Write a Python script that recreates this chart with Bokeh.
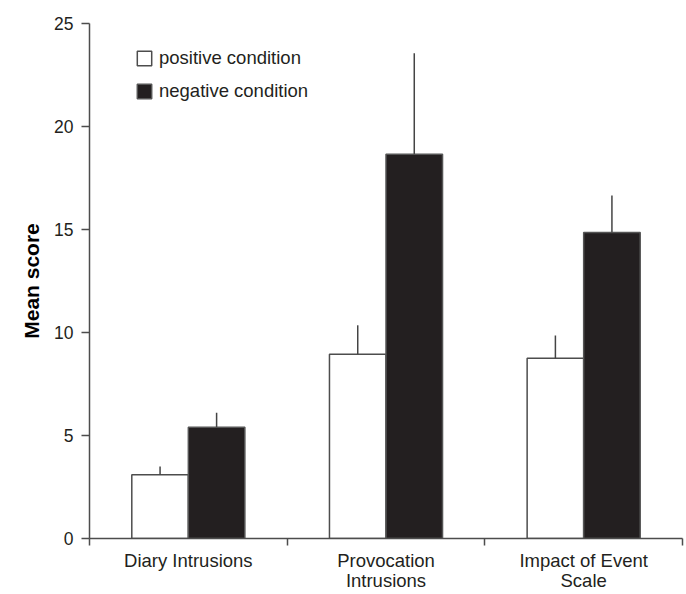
from bokeh.plotting import figure
from bokeh.models import Range1d, FixedTicker, Legend, LegendItem, ColumnDataSource
from bokeh.transform import dodge
from bokeh.embed import file_html
from bokeh.resources import INLINE

categories = ["Diary Intrusions", "Provocation\nIntrusions", "Impact of Event\nScale"]
positive_means = [3.1, 8.95, 8.75]
positive_err = [0.4, 1.4, 1.1]
negative_means = [5.4, 18.65, 14.85]
negative_err = [0.7, 4.9, 1.8]
series_labels = ["positive condition", "negative condition"]
y_ticks = [0, 5, 10, 15, 20, 25]

centers = [i + 0.5 for i in range(len(categories))]
boundaries = [i for i in range(len(categories) + 1)]
source = ColumnDataSource(dict(
    x=centers,
    pos=positive_means,
    neg=negative_means,
    pos_top=[m + e for m, e in zip(positive_means, positive_err)],
    neg_top=[m + e for m, e in zip(negative_means, negative_err)],
))

FONT = "Liberation Sans"
TEXT = "#231f20"
LINE = "#4d4d4d"
BW = 0.286
OFF = BW / 2

p = figure(width=686, height=594, output_backend="svg", toolbar_location=None,
           x_range=Range1d(0, len(categories)), y_range=Range1d(0, 25),
           min_border_left=89, min_border_right=4, min_border_top=23, min_border_bottom=53)
p.outline_line_color = None
p.xgrid.visible = False
p.ygrid.visible = False
p.background_fill_color = "white"
p.border_fill_color = "white"

r_pos = p.vbar(x=dodge("x", -OFF), top="pos", bottom=0, width=BW, source=source,
               fill_color="white", line_color=LINE, line_width=1.5)
r_neg = p.vbar(x=dodge("x", OFF), top="neg", bottom=0, width=BW, source=source,
               fill_color="#231f20", line_color="#555555", line_width=1.5)
p.segment(x0=dodge("x", -OFF), y0="pos", x1=dodge("x", -OFF), y1="pos_top", source=source,
          line_color="#444444", line_width=1.5)
p.segment(x0=dodge("x", OFF), y0="neg", x1=dodge("x", OFF), y1="neg_top", source=source,
          line_color="#444444", line_width=1.5)

# x axis
xa = p.xaxis[0]
xa.ticker = FixedTicker(ticks=centers, minor_ticks=boundaries)
xa.major_label_overrides = {c: lab for c, lab in zip(centers, categories)}
xa.major_tick_out = 0
xa.major_tick_in = 0
xa.major_tick_line_color = None
xa.minor_tick_out = 7
xa.minor_tick_in = 0
xa.minor_tick_line_color = LINE
xa.minor_tick_line_width = 1.5
xa.axis_line_color = LINE
xa.axis_line_width = 1.5
xa.major_label_text_font = FONT
xa.major_label_text_font_size = "18.5px"
xa.major_label_text_color = TEXT
xa.major_label_text_line_height = 0.98
xa.major_label_standoff = 4

# y axis
ya = p.yaxis[0]
ya.ticker = FixedTicker(ticks=y_ticks, minor_ticks=[])
ya.major_tick_out = 8
ya.major_tick_in = 0
ya.major_tick_line_color = LINE
ya.major_tick_line_width = 1.5
ya.axis_line_color = LINE
ya.axis_line_width = 1.5
ya.major_label_text_font = FONT
ya.major_label_text_font_size = "17.5px"
ya.major_label_text_color = TEXT
ya.major_label_standoff = 8
ya.axis_label = "Mean score"
ya.axis_label_text_font = FONT
ya.axis_label_text_font_size = "21px"
ya.axis_label_text_font_style = "bold"
ya.axis_label_text_color = "black"
ya.axis_label_standoff = 8

legend = Legend(items=[LegendItem(label=series_labels[0], renderers=[r_pos]),
                       LegendItem(label=series_labels[1], renderers=[r_neg])],
                location=(46, 436), glyph_width=18, glyph_height=18, label_height=18,
                spacing=11, padding=0, margin=0, border_line_color=None,
                background_fill_alpha=0, label_standoff=6,
                label_text_font=FONT, label_text_font_size="18.5px", label_text_color=TEXT)
p.add_layout(legend)

open("out.html", "w").write(file_html(p, INLINE))
